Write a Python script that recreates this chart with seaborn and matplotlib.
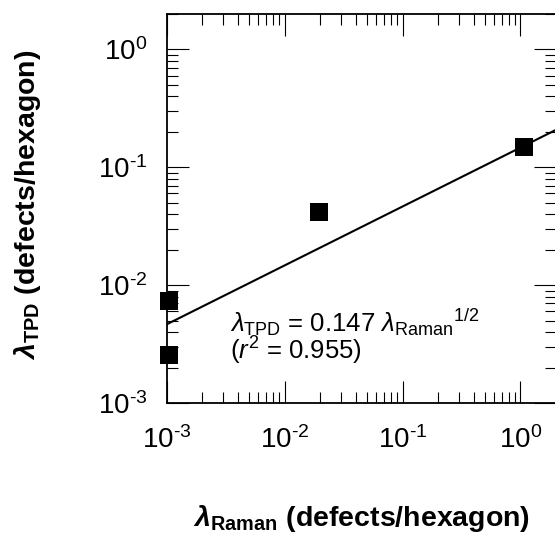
import matplotlib
matplotlib.use('Agg')
import numpy as np
import matplotlib.pyplot as plt
import seaborn as sns
import pandas as pd
from matplotlib.ticker import LogLocator, NullFormatter, FuncFormatter

# values
raman = [1.05e-3, 1.05e-3, 0.0196, 1.08]
tpd = [0.0074, 0.00257, 0.042, 0.149]
# fit line: lambda_TPD = 0.147 lambda_Raman^(1/2), end points
fit_x = [1e-3, 2.0]
fit_y = [0.00465, 0.208]

sns.set_theme(style='ticks')
plt.rcParams['font.family'] = ['Liberation Sans', 'DejaVu Sans']
plt.rcParams.update({
    'mathtext.fontset': 'custom',
    'mathtext.rm': 'Liberation Sans',
    'mathtext.it': 'Liberation Sans:italic',
    'mathtext.bf': 'Liberation Sans:bold',
    'mathtext.bfit': 'Liberation Sans:bold:italic',
    'text.color': 'black',
    'axes.labelcolor': 'black',
    'xtick.color': 'black',
    'ytick.color': 'black',
})

fig = plt.figure(figsize=(5.55, 5.34), dpi=100)
ax = fig.add_axes([0.3003, 0.2453, 0.7015, 0.7285])
ax.set_xscale('log')
ax.set_yscale('log')

df = pd.DataFrame({'raman': raman, 'tpd': tpd})
sns.lineplot(x=fit_x, y=fit_y, color='black', lw=1.5, ax=ax)
sns.scatterplot(data=df, x='raman', y='tpd', marker='s', s=165, color='black',
                linewidth=0, ax=ax, zorder=5, clip_on=False)

ax.set_xlim(1e-3, 2)
ax.set_ylim(1e-3, 2)


def decade(v, pos):
    e = int(round(np.log10(v)))
    s = r'\text{-}%d' % -e if e < 0 else '%d' % e
    return r'$\mathdefault{10^{%s}}$' % s


for a in (ax.xaxis, ax.yaxis):
    a.set_major_formatter(FuncFormatter(decade))
    a.set_minor_locator(LogLocator(base=10, subs=range(2, 10), numticks=30))
    a.set_minor_formatter(NullFormatter())

ax.tick_params(which='both', direction='in', top=True, right=True, color='black')
ax.tick_params(which='major', length=15.6, width=0.8, labelsize=20)
ax.tick_params(which='minor', length=8, width=0.8)
ax.tick_params(axis='x', which='major', pad=17)
ax.tick_params(axis='y', which='major', pad=14)
for s in ax.spines.values():
    s.set_linewidth(1.3)
    s.set_color('black')

ax.set_xlabel(r'$\mathbfit{\lambda}_{\mathbf{Raman}}$ (defects/hexagon)',
              fontsize=20.5, fontweight='bold')
ax.set_ylabel(r'$\mathbfit{\lambda}_{\mathbf{TPD}}$ (defects/hexagon)',
              fontsize=20.5, fontweight='bold')
ax.xaxis.set_label_coords(0.5, -0.256)
ax.yaxis.set_label_coords(-0.318, 0.51)

fig.text(0.4144, 1 - 332 / 534,
         r'$\lambda_{\mathrm{TPD}}$ = 0.147 ${\lambda_{\mathrm{Raman}}}^{\mathrm{1/2}}$',
         fontsize=18.5, va='baseline', ha='left')
fig.text(0.4144, 1 - 360 / 534, r'($r^{\mathrm{2}}$ = 0.955)',
         fontsize=18.5, va='baseline', ha='left')

fig.savefig('out.png', dpi=100)
